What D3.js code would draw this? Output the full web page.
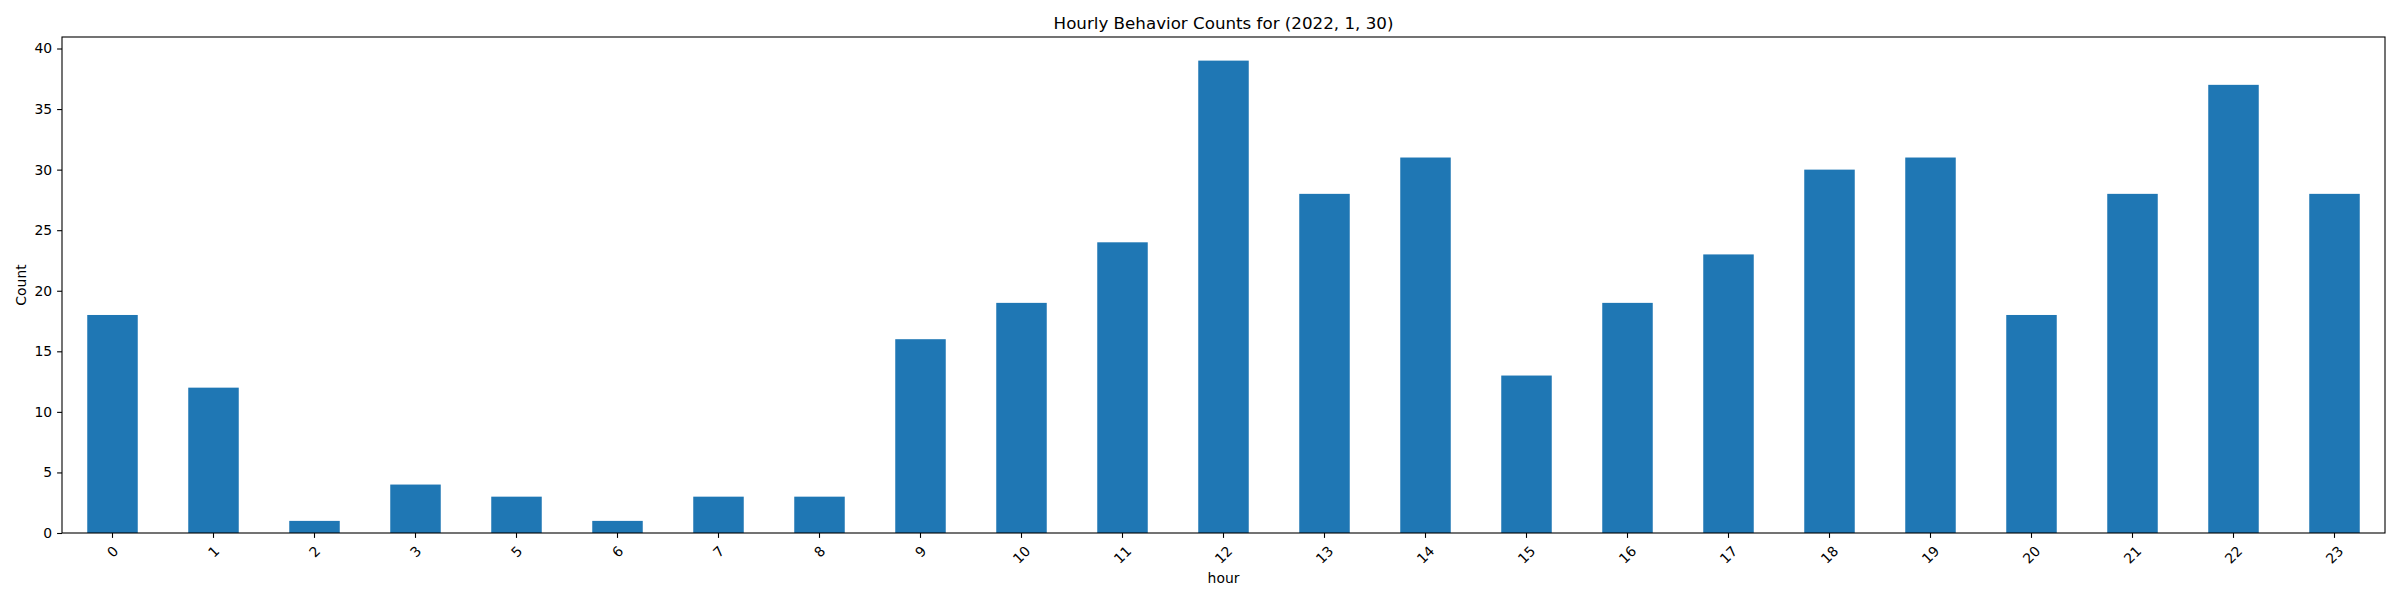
<!DOCTYPE html>
<html>
<head>
<meta charset="utf-8">
<script src="https://cdn.jsdelivr.net/npm/d3@7"></script>
<style>
  html, body { margin: 0; padding: 0; background: #fff; }
  text { font-family: "DejaVu Sans", sans-serif; fill: #000; }
</style>
</head>
<body>
<div id="chart"></div>
<script>
// hour 4 has no records, so it is not a category
const hours = ['0', '1', '2', '3', '5', '6', '7', '8', '9', '10', '11', '12',
  '13', '14', '15', '16', '17', '18', '19', '20', '21', '22', '23'];
const counts = [18, 12, 1, 4, 3, 1, 3, 3, 16, 19, 24, 39,
  28, 31, 13, 19, 23, 30, 31, 18, 28, 37, 28];
const yTicks = [0, 5, 10, 15, 20, 25, 30, 35, 40];

const width = 2400;
const height = 600;
const margin = { top: 37, right: 15, bottom: 67, left: 62 };
const plotW = width - margin.left - margin.right;
const plotH = height - margin.top - margin.bottom;
const barColor = '#1f77b4';
const tickLen = 4.9;
const tickPad = 4.9;

const svg = d3.select('#chart')
  .append('svg')
  .attr('width', width)
  .attr('height', height);

const g = svg.append('g')
  .attr('transform', `translate(${margin.left},${margin.top})`);

// pandas bar layout: width 0.5, xlim -0.5 .. n-0.5
const x = d3.scaleBand()
  .domain(hours)
  .range([0, plotW])
  .paddingInner(0.5)
  .paddingOuter(0.25);

// matplotlib default 5% margin on top
const y = d3.scaleLinear()
  .domain([0, d3.max(counts) * 1.05])
  .range([plotH, 0]);

// bars
g.append('g')
  .selectAll('rect')
  .data(hours)
  .enter()
  .append('rect')
  .attr('x', d => x(d))
  .attr('y', (d, i) => y(counts[i]))
  .attr('width', x.bandwidth())
  .attr('height', (d, i) => plotH - y(counts[i]))
  .attr('fill', barColor);

// y axis
const yAxis = g.append('g')
  .call(d3.axisLeft(y).tickValues(yTicks).tickSize(tickLen).tickPadding(tickPad));
yAxis.select('.domain').remove();
yAxis.selectAll('line').attr('stroke', '#000').attr('stroke-width', 1.1);
yAxis.selectAll('text')
  .attr('font-size', 13.9)
  .attr('font-family', '"DejaVu Sans", sans-serif')
  .attr('fill', '#000');

// x axis with 45 degree labels
const xAxis = g.append('g')
  .attr('transform', `translate(0,${plotH})`)
  .call(d3.axisBottom(x).tickSize(tickLen).tickFormat(''));
xAxis.select('.domain').remove();
xAxis.selectAll('line').attr('stroke', '#000').attr('stroke-width', 1.1);

const labelTop = plotH + tickLen + tickPad;
const fs = 13.9;
g.append('g')
  .selectAll('text')
  .data(hours)
  .enter()
  .append('text')
  .attr('font-size', fs)
  .attr('text-anchor', 'middle')
  .attr('dominant-baseline', 'central')
  .text(d => d)
  .each(function (d) {
    const w = this.getComputedTextLength();
    const h = fs * 1.16;
    const cx = x(d) + x.bandwidth() / 2;
    const cy = labelTop + (w + h) / (2 * Math.SQRT2);
    d3.select(this)
      .attr('x', cx)
      .attr('y', cy)
      .attr('transform', `rotate(-45,${cx},${cy})`);
  });

// frame
g.append('rect')
  .attr('x', 0)
  .attr('y', 0)
  .attr('width', plotW)
  .attr('height', plotH)
  .attr('fill', 'none')
  .attr('stroke', '#000')
  .attr('stroke-width', 1.1);

// title and axis labels
svg.append('text')
  .attr('x', margin.left + plotW / 2)
  .attr('y', 29)
  .attr('text-anchor', 'middle')
  .attr('font-size', 16.7)
  .text('Hourly Behavior Counts for (2022, 1, 30)');

svg.append('text')
  .attr('x', margin.left + plotW / 2)
  .attr('y', 583)
  .attr('text-anchor', 'middle')
  .attr('font-size', 13.9)
  .text('hour');

svg.append('text')
  .attr('transform', `translate(26,${margin.top + plotH / 2}) rotate(-90)`)
  .attr('text-anchor', 'middle')
  .attr('font-size', 13.9)
  .text('Count');
</script>
</body>
</html>
